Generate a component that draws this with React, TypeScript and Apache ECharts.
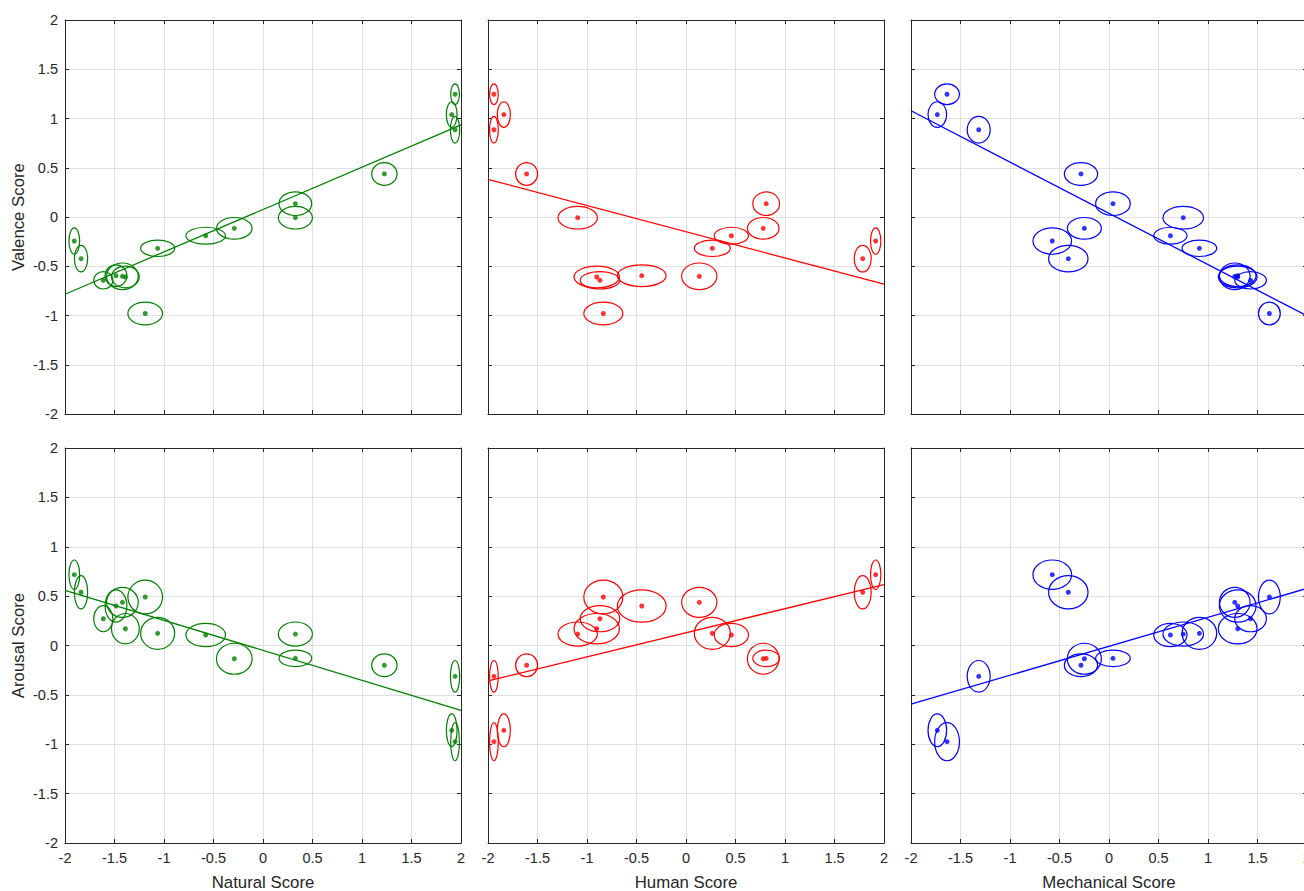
import React, { useEffect, useRef } from "react";
import * as echarts from "echarts";

// 16 stimuli
const natural = [1.94, 1.906, 1.94, 1.226, 0.327, 0.327, -0.29, -0.579, -1.064, -1.906, -1.838, -1.613, -1.485, -1.42, -1.39, -1.19];
const human = [-1.94, -1.84, -1.94, -1.61, 0.81, -1.094, 0.78, 0.458, 0.266, 1.916, 1.785, -0.869, -0.447, 0.134, -0.902, -0.835];
const mechanical = [-1.636, -1.734, -1.316, -0.283, 0.04, 0.75, -0.249, 0.62, 0.913, -0.573, -0.411, 1.43, 1.3, 1.27, 1.3, 1.62];
const valence = [1.246, 1.04, 0.886, 0.437, 0.135, -0.007, -0.115, -0.19, -0.318, -0.244, -0.423, -0.643, -0.596, -0.602, -0.609, -0.98];
const arousal = [-0.974, -0.859, -0.312, -0.2, -0.13, 0.116, -0.134, 0.106, 0.123, 0.717, 0.539, 0.271, 0.4, 0.437, 0.17, 0.491];

// half-widths of the error ellipses
const naturalErr = [0.044, 0.054, 0.047, 0.128, 0.165, 0.172, 0.18, 0.2, 0.172, 0.054, 0.067, 0.097, 0.11, 0.16, 0.14, 0.175];
const humanErr = [0.044, 0.066, 0.044, 0.111, 0.135, 0.199, 0.16, 0.173, 0.182, 0.052, 0.086, 0.2, 0.246, 0.178, 0.229, 0.197];
const mechanicalErr = [0.125, 0.094, 0.116, 0.168, 0.175, 0.205, 0.172, 0.168, 0.175, 0.195, 0.199, 0.16, 0.185, 0.155, 0.195, 0.11];
const valenceErr = [0.105, 0.13, 0.135, 0.115, 0.12, 0.115, 0.11, 0.086, 0.083, 0.134, 0.135, 0.088, 0.11, 0.135, 0.11, 0.115];
const arousalErr = [0.193, 0.166, 0.16, 0.115, 0.084, 0.122, 0.157, 0.118, 0.162, 0.149, 0.169, 0.132, 0.164, 0.152, 0.154, 0.171];

const xNames = ["Natural Score", "Human Score", "Mechanical Score"];
const yNames = ["Valence Score", "Arousal Score"];
const colors = ["#008000", "#ff0000", "#0000ff"];

const FONT = "'Liberation Sans', Arial, Helvetica, sans-serif";
const TXT = "#262626";

function ols(x: number[], y: number[]) {
  const n = x.length;
  const mx = x.reduce((a, b) => a + b, 0) / n;
  const my = y.reduce((a, b) => a + b, 0) / n;
  let sxy = 0, sxx = 0;
  for (let i = 0; i < n; i++) {
    sxy += (x[i] - mx) * (y[i] - my);
    sxx += (x[i] - mx) * (x[i] - mx);
  }
  const b = sxy / sxx;
  return { b, a: my - b * mx };
}

export default function App() {
  const ref = useRef<HTMLDivElement>(null);
  useEffect(() => {
    if (!ref.current) return;
    const chart = echarts.init(ref.current, undefined, { renderer: "svg" });
    const cols = [
      { x: natural, xe: naturalErr },
      { x: human, xe: humanErr },
      { x: mechanical, xe: mechanicalErr },
    ];
    const rows = [
      { y: valence, ye: valenceErr },
      { y: arousal, ye: arousalErr },
    ];
    const lefts = [65, 488, 911];
    const tops = [20, 448];
    const heights = [394, 395];
    const grids: any[] = [];
    const xAxes: any[] = [];
    const yAxes: any[] = [];
    const series: any[] = [];
    const axisBase = {
      min: -2,
      max: 2,
      interval: 0.5,
      axisLine: { show: true, onZero: false, lineStyle: { color: TXT, width: 1 } },
      axisTick: { show: true, inside: true, length: 4, lineStyle: { color: TXT } },
    };
    rows.forEach((row, r) => {
      cols.forEach((col, c) => {
        const k = r * 3 + c;
        const color = colors[c];
        grids.push({
          left: lefts[c],
          top: tops[r],
          width: 396,
          height: heights[r],
          containLabel: false,
          outerBoundsMode: "none",
        });
        xAxes.push({
          ...axisBase,
          type: "value",
          gridIndex: k,
          position: "bottom",
          splitLine: { show: true, lineStyle: { color: "#e0e0e0", width: 1 } },
          axisLabel: {
            show: r === 1,
            color: TXT,
            fontSize: 14.5,
            fontFamily: FONT,
            margin: 7,
            showMinLabel: true,
            showMaxLabel: true,
          },
          name: r === 1 ? xNames[c] : "",
          nameLocation: "middle",
          nameGap: 31,
          nameTextStyle: { color: TXT, fontSize: 16.8, fontFamily: FONT },
        });
        xAxes.push({
          ...axisBase,
          type: "value",
          gridIndex: k,
          position: "top",
          splitLine: { show: false },
          axisLabel: { show: false },
        });
        yAxes.push({
          ...axisBase,
          type: "value",
          gridIndex: k,
          position: "left",
          splitLine: { show: true, lineStyle: { color: "#e0e0e0", width: 1 } },
          axisLabel: {
            show: c === 0,
            color: TXT,
            fontSize: 14.5,
            fontFamily: FONT,
            margin: 7,
            showMinLabel: true,
            showMaxLabel: true,
          },
          name: c === 0 ? yNames[r] : "",
          nameLocation: "middle",
          nameGap: 38,
          nameTextStyle: { color: TXT, fontSize: 16.8, fontFamily: FONT },
        });
        yAxes.push({
          ...axisBase,
          type: "value",
          gridIndex: k,
          position: "right",
          splitLine: { show: false },
          axisLabel: { show: false },
        });
        const ellData = col.x.map((xv, i) => [xv, row.y[i], col.xe[i], row.ye[i]]);
        series.push({
          type: "custom",
          xAxisIndex: 2 * k,
          yAxisIndex: 2 * k,
          data: ellData,
          silent: true,
          renderItem: (params: any, api: any) => {
            const p = api.coord([api.value(0), api.value(1)]);
            const s = api.size([api.value(2), api.value(3)]);
            return {
              type: "ellipse",
              shape: { cx: p[0], cy: p[1], rx: s[0], ry: s[1] },
              style: { fill: "none", stroke: color, lineWidth: 1.2 },
            };
          },
        });
        series.push({
          type: "scatter",
          xAxisIndex: 2 * k,
          yAxisIndex: 2 * k,
          data: col.x.map((xv, i) => [xv, row.y[i]]),
          symbol: "circle",
          symbolSize: 5,
          itemStyle: { color },
          silent: true,
        });
        const { a, b } = ols(col.x, row.y);
        series.push({
          type: "line",
          xAxisIndex: 2 * k,
          yAxisIndex: 2 * k,
          data: [[-2, a + b * -2], [2, a + b * 2]],
          symbol: "none",
          clip: true,
          lineStyle: { color, width: 1.3 },
          silent: true,
        });
      });
    });
    chart.setOption({
      animation: false,
      backgroundColor: "#ffffff",
      textStyle: { fontFamily: FONT },
      grid: grids,
      xAxis: xAxes,
      yAxis: yAxes,
      series,
    });
    return () => chart.dispose();
  }, []);
  return (
    <div
      ref={ref}
      style={{ position: "absolute", left: 0, top: 0, width: 1304, height: 891 }}
    />
  );
}
